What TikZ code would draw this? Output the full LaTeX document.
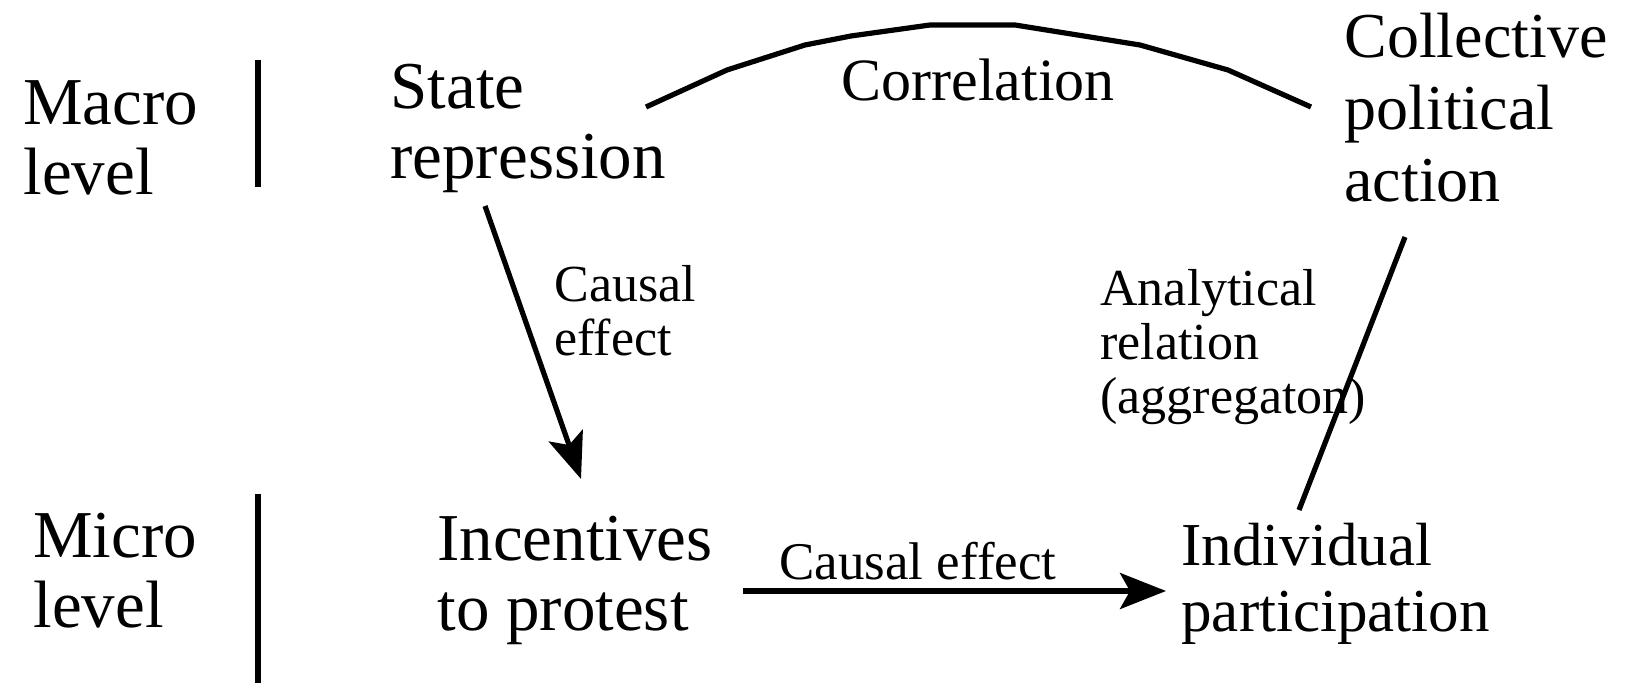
\documentclass[tikz,border=0pt]{standalone}
\usepackage{fontspec}
\setmainfont{Liberation Serif}
\usetikzlibrary{arrows.meta,positioning,calc}
\tikzset{
 scalelabel/.style={anchor=base west, align=left, inner sep=0pt, font=\fontsize{33.5}{35}\selectfont},
 concept/.style={anchor=base west, align=left, inner sep=0pt, font=\fontsize{33.5}{35}\selectfont},
 linklabel/.style={anchor=base west, align=left, inner sep=0pt, font=\fontsize{26}{27}\selectfont},
 bar/.style={line width=2.8pt},
 link/.style={line width=2.6pt},
 arrow/.style={link, -{Stealth[length=23pt,width=18pt,inset=5pt]}}
}
\begin{document}
\begin{tikzpicture}[x=0.5pt,y=-0.5pt]
\useasboundingbox (0,0) rectangle (1632,683);
% level labels and separators
\node[scalelabel] (macro) at (23,195) {Macro\\level};
\node[scalelabel] (micro) at (33,627) {Micro\\level};
\draw[bar] (258,60) -- (258,187);
\draw[bar] (258,494) -- (258,683);
% concepts
\node[concept] (repr) at (390,179) {State\\repression};
\node[concept, font=\fontsize{32}{36}\selectfont] (coll) at (1344,202) {Collective\\political\\action};
\node[concept] (incent) at (437,630) {Incentives\\to protest};
\node[concept, font=\fontsize{30.5}{32.5}\selectfont] (indiv) at (1181,631) {Individual\\participation};
% link labels
\node[linklabel, font=\fontsize{30}{31}\selectfont] (corr) at (841,101) {Correlation};
\node[linklabel] (causal1) at (554,356) {Causal\\effect};
\node[linklabel] (analyt) at (1100,414) {Analytical\\relation\\(aggregaton)};
\node[linklabel, font=\fontsize{26.5}{27}\selectfont] (causal2) at (779,579) {Causal effect};
% connector ends
\coordinate (repr-out) at (485,206);
\coordinate (incent-in) at (581,479);
\coordinate (incent-out) at (743,591);
\coordinate (indiv-in) at (1166,591);
\coordinate (indiv-out) at (1299,510);
\coordinate (coll-in) at (1405,237);
\coordinate (repr-top) at (646,107);
\coordinate (coll-left) at (1311,107);
% connectors
\draw[arrow] (repr-out) -- (incent-in);
\draw[arrow] (incent-out) -- (indiv-in);
\draw[link] (indiv-out) -- (coll-in);
\draw[link] (repr-top) -- (727,70) -- (805,45) -- (851,36) -- (930,25)
 -- (1015,25) -- (1140,45) -- (1228,70) -- (coll-left);
\end{tikzpicture}
\end{document}
